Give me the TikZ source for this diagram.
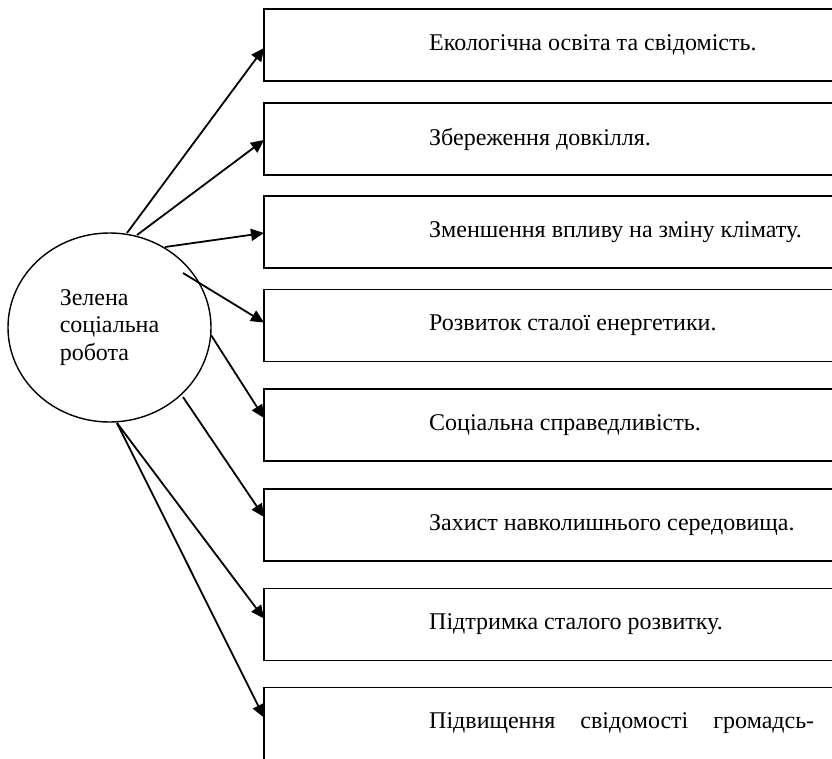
\documentclass[tikz,border=0pt]{standalone}
\usepackage{fontspec}
\setmainfont{Liberation Serif}
\usetikzlibrary{arrows.meta,shapes.geometric}
\begin{document}
\begin{tikzpicture}[x=1pt,y=-1pt,
  boxstyle/.style={draw, line width=1.7pt, rectangle, minimum width=590pt, minimum height=72pt, inner sep=0pt, outer sep=0pt},
  arr/.style={line width=1.8pt, -{Triangle[length=13pt,width=12pt]}},
  lbl/.style={anchor=west, inner sep=0pt, font=\fontsize{24}{27.5}\selectfont},
  circ/.style={draw, ellipse, line width=1.4pt, minimum width=203pt, minimum height=189pt, inner sep=0pt, outer sep=0pt, align=left, font=\fontsize{24}{27.5}\selectfont}]
\useasboundingbox (0,0) rectangle (832,758);
\node[circ] (c) at (109.5,327.5) {Зелена\\соціальна\\робота};
\foreach \i/\y in {1/45,2/139,3/232,4/325.5,5/425,6/525,7/624.5}{
  \node[boxstyle] (b\i) at (559,\y) {};
}
\node[boxstyle, draw=none] (b8) at (559,723.5) {};
\draw[line width=1.7pt] ([xshift=30pt]b8.north east) -- (b8.north west) -- ++(0,110);
\node[lbl] (t1) at (429,45) {Екологічна освіта та свідомість.};
\node[lbl] (t2) at (429,139) {Збереження довкілля.};
\node[lbl] (t3) at (429,232) {Зменшення впливу на зміну клімату.};
\node[lbl] (t4) at (429,325.5) {Розвиток сталої енергетики.};
\node[lbl] (t5) at (429,425) {Соціальна справедливість.};
\node[lbl] (t6) at (429,525) {Захист навколишнього середовища.};
\node[lbl] (t7) at (429,624.5) {Підтримка сталого розвитку.};
\node[lbl] (t8) at (429,723.5) {\makebox[385pt][s]{Підвищення\hfill свідомості\hfill громадсь-}};
\coordinate (s1) at (127,233);
\coordinate (s2) at (137,235);
\coordinate (s3) at (165,247);
\coordinate (s4) at (183,273);
\coordinate (s5) at (211,335);
\coordinate (s6) at (183,397);
\coordinate (s7) at (117,423);
\draw[arr] (s1) -- ([yshift=-3pt]b1.west);
\draw[arr] (s2) -- ([yshift=-1pt]b2.west);
\draw[arr] (s3) -- ([yshift=-1pt]b3.west);
\draw[arr] (s4) -- ([yshift=3pt]b4.west);
\draw[arr] (s5) -- ([yshift=7pt]b5.west);
\draw[arr] (s6) -- ([yshift=8pt]b6.west);
\draw[arr] (s7) -- ([yshift=6pt]b7.west);
\draw[arr] (s7) -- ([yshift=6pt]b8.west);
\end{tikzpicture}
\end{document}
